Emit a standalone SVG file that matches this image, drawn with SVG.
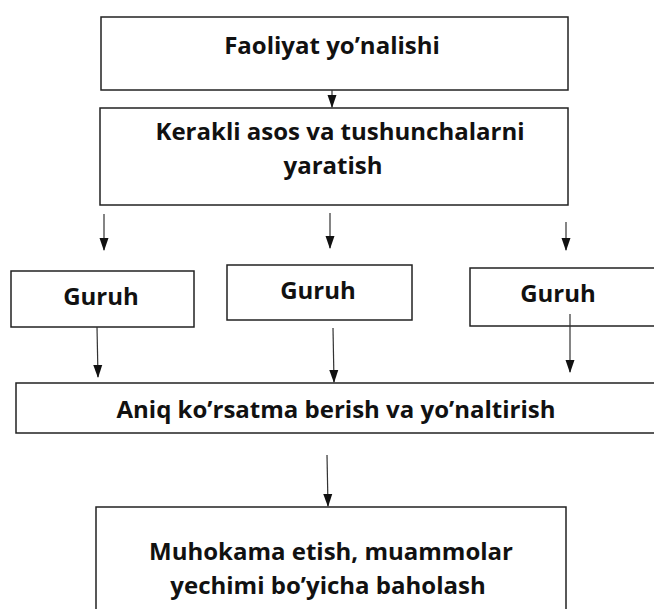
<svg xmlns="http://www.w3.org/2000/svg" width="654" height="609" viewBox="0 0 654 609">
<style>
.box{fill:#fff;stroke:#222;stroke-width:1.5}
.t{font-family:"Open Sans","Liberation Sans",sans-serif;font-weight:bold;font-size:24px;fill:#111;text-anchor:middle}
.c line{stroke:#333;stroke-width:1.2}
</style>
<defs>
<marker id="a" markerWidth="13" markerHeight="10" refX="12" refY="5" orient="auto" markerUnits="userSpaceOnUse" viewBox="0 0 13 10">
<path d="M0,0.5 L13,5 L0,9.5 Z" fill="#111"/>
</marker>
</defs>
<rect width="654" height="609" fill="#fff"/>
<g id="n1"><rect class="box" x="101" y="17" width="467" height="73"/><text class="t" x="332" y="54">Faoliyat yo’nalishi</text></g>
<g id="n2"><rect class="box" x="100" y="108" width="468" height="97"/><text class="t" x="340" y="140">Kerakli asos va tushunchalarni</text><text class="t" x="333" y="174">yaratish</text></g>
<g id="g1"><rect class="box" x="11" y="271" width="183" height="56"/><text class="t" x="101" y="305">Guruh</text></g>
<g id="g2"><rect class="box" x="227" y="265" width="185" height="55"/><text class="t" x="318" y="299">Guruh</text></g>
<g id="g3"><rect class="box" x="470" y="268" width="185" height="58"/><text class="t" x="558" y="302">Guruh</text></g>
<g id="n3"><rect class="box" x="16" y="383" width="640" height="50"/><text class="t" x="336" y="418">Aniq ko’rsatma berish va yo’naltirish</text></g>
<g id="n4"><rect class="box" x="96" y="507" width="470" height="110"/><text class="t" x="331" y="560">Muhokama etish, muammolar</text><text class="t" x="328" y="594">yechimi bo’yicha baholash</text></g>
<g class="c" id="connectors">
<line x1="332" y1="90" x2="332" y2="107" marker-end="url(#a)"/>
<line x1="104" y1="214" x2="104" y2="250" marker-end="url(#a)"/>
<line x1="330" y1="213" x2="330" y2="248" marker-end="url(#a)"/>
<line x1="566" y1="222" x2="566" y2="250" marker-end="url(#a)"/>
<line x1="97" y1="327" x2="98" y2="377" marker-end="url(#a)"/>
<line x1="333" y1="328" x2="334" y2="382" marker-end="url(#a)"/>
<line x1="570" y1="314" x2="570" y2="372" marker-end="url(#a)"/>
<line x1="327" y1="455" x2="328" y2="506" marker-end="url(#a)"/>
</g>
</svg>
